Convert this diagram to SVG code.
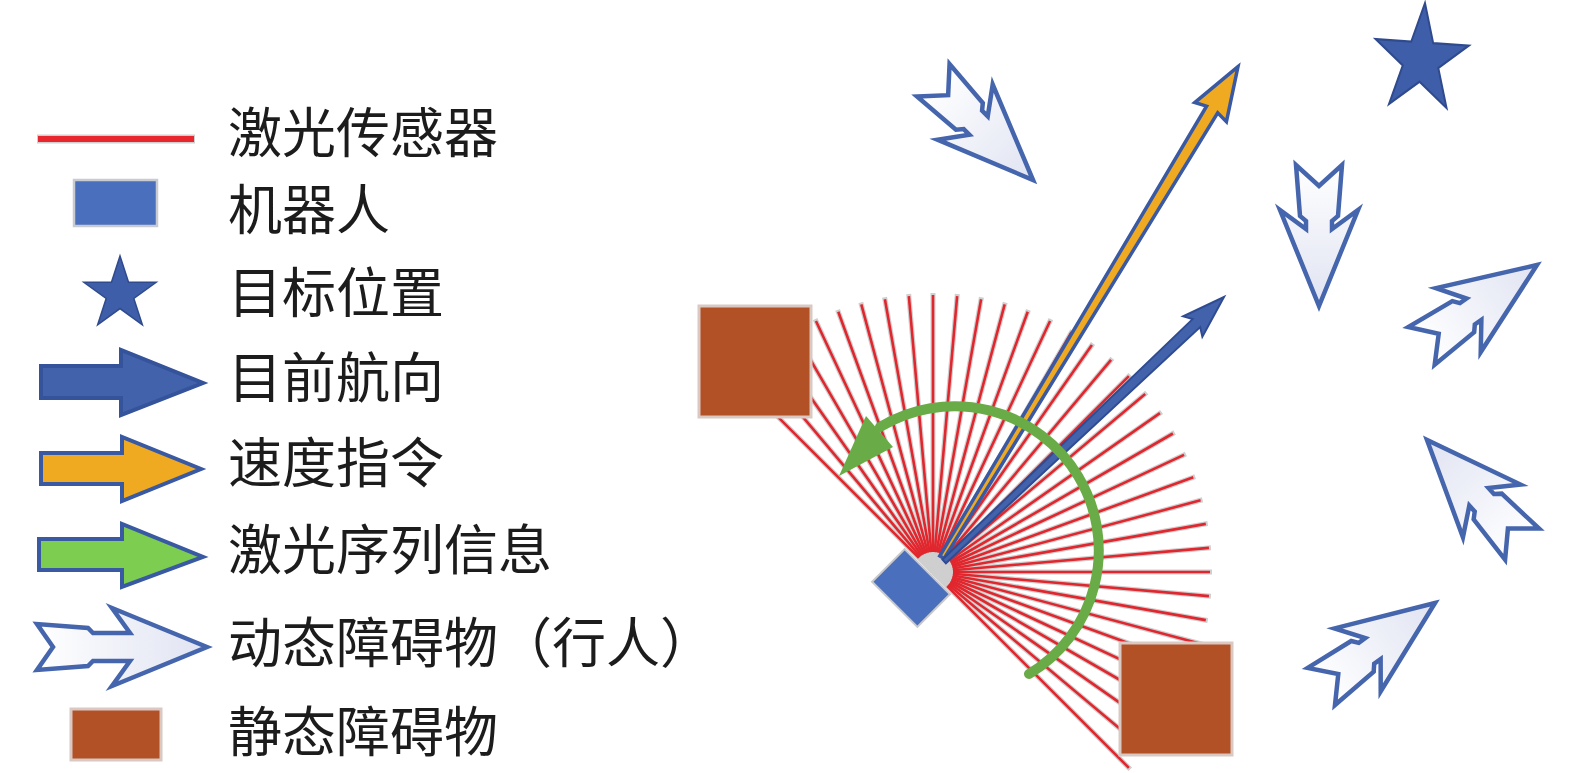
<svg xmlns="http://www.w3.org/2000/svg" xmlns:xlink="http://www.w3.org/1999/xlink" width="1575" height="773" viewBox="0 0 1575 773">
<style>
.lbl{font-family:"Noto Sans CJK SC","Noto Sans",sans-serif;font-size:54px;fill:#1c1c1c}
.rg{stroke:#cfcfcf;stroke-width:5}
.rr{stroke:#e1262d;stroke-width:2.6}
.ped{fill:url(#pedGrad);stroke:#4565ad;stroke-width:4.5;stroke-linejoin:miter}
.brown{fill:#b25126;stroke:#d9c9c2;stroke-width:3}
.star{fill:#3f5ea9;stroke:#2f4b8e;stroke-width:4}
</style>
<defs>
<linearGradient id="pedGrad" x1="0" y1="0" x2="1" y2="0">
<stop offset="0" stop-color="#ffffff"/>
<stop offset="1" stop-color="#e0e3f2"/>
</linearGradient>
<line id="rayG" x1="0" y1="0" x2="279" y2="0" class="rg"/>
<line id="rayR" x1="20" y1="0" x2="277" y2="0" class="rr"/>
<path id="pedShape" d="M0,0 L-96,-39 L-77,-13 L-85,-13 L-90,-19 L-141,-23 L-120,0 L-141,23 L-90,19 L-85,13 L-77,13 L-96,39 Z"/>
<path id="starShape" d="M0,-100 L22.45,-30.9 L95.11,-30.9 L36.33,11.8 L58.78,80.9 L0,38.2 L-58.78,80.9 L-36.33,11.8 L-95.11,-30.9 L-22.45,-30.9 Z"/>
</defs>
<rect width="1575" height="773" fill="#ffffff"/>

<!-- Legend -->
<g id="legend-laser">
<line x1="37" y1="139" x2="195" y2="139" stroke="#cfcfcf" stroke-width="9"/>
<line x1="38" y1="139" x2="194" y2="139" stroke="#e8262e" stroke-width="6"/>
<text class="lbl" x="228" y="153">激光传感器</text>
</g>
<g id="legend-robot">
<rect x="74" y="180" width="83" height="46" fill="#4a6fbd" stroke="#c9cbd3" stroke-width="2.5"/>
<text class="lbl" x="228" y="230">机器人</text>
</g>
<g id="legend-goal">
<use xlink:href="#starShape" class="star" transform="translate(120,294) scale(0.38)"/>
<text class="lbl" x="228" y="313">目标位置</text>
</g>
<g id="legend-heading">
<polygon points="41,366 121,366 121,350 203,383 121,415 121,398 41,398" fill="#4262ab" stroke="#34539a" stroke-width="4"/>
<text class="lbl" x="228" y="398">目前航向</text>
</g>
<g id="legend-velocity">
<polygon points="41,453 122,453 122,437 201,469 122,501 122,484 41,484" fill="#f0aa22" stroke="#3a59a3" stroke-width="4"/>
<text class="lbl" x="228" y="483">速度指令</text>
</g>
<g id="legend-sequence">
<polygon points="39,539 122,539 122,524 203,557 122,587 122,570 39,570" fill="#7ccd50" stroke="#3a59a3" stroke-width="4"/>
<text class="lbl" x="228" y="570">激光序列信息</text>
</g>
<g id="legend-pedestrian">
<polygon class="ped" points="207,647 112,608 130,633 93,633 88,628 37,624 53,647 37,670 88,666 93,661 130,661 112,686"/>
<text class="lbl" x="228" y="663">动态障碍物（行人）</text>
</g>
<g id="legend-static">
<rect x="71" y="709" width="90" height="51" class="brown"/>
<text class="lbl" x="228" y="752">静态障碍物</text>
</g>

<!-- Laser rays -->
<g id="laser-rays">
<g transform="translate(933,572)">
<use xlink:href="#rayG" transform="rotate(-135)"/><use xlink:href="#rayG" transform="rotate(-130)"/><use xlink:href="#rayG" transform="rotate(-125)"/><use xlink:href="#rayG" transform="rotate(-120)"/><use xlink:href="#rayG" transform="rotate(-115)"/><use xlink:href="#rayG" transform="rotate(-110)"/><use xlink:href="#rayG" transform="rotate(-105)"/><use xlink:href="#rayG" transform="rotate(-100)"/><use xlink:href="#rayG" transform="rotate(-95)"/><use xlink:href="#rayG" transform="rotate(-90)"/><use xlink:href="#rayG" transform="rotate(-85)"/><use xlink:href="#rayG" transform="rotate(-80)"/><use xlink:href="#rayG" transform="rotate(-75)"/><use xlink:href="#rayG" transform="rotate(-70)"/><use xlink:href="#rayG" transform="rotate(-65)"/><use xlink:href="#rayG" transform="rotate(-60)"/><use xlink:href="#rayG" transform="rotate(-55)"/><use xlink:href="#rayG" transform="rotate(-50)"/><use xlink:href="#rayG" transform="rotate(-45)"/><use xlink:href="#rayG" transform="rotate(-40)"/><use xlink:href="#rayG" transform="rotate(-35)"/><use xlink:href="#rayG" transform="rotate(-30)"/><use xlink:href="#rayG" transform="rotate(-25)"/><use xlink:href="#rayG" transform="rotate(-20)"/><use xlink:href="#rayG" transform="rotate(-15)"/><use xlink:href="#rayG" transform="rotate(-10)"/><use xlink:href="#rayG" transform="rotate(-5)"/><use xlink:href="#rayG" transform="rotate(0)"/><use xlink:href="#rayG" transform="rotate(5)"/><use xlink:href="#rayG" transform="rotate(10)"/><use xlink:href="#rayG" transform="rotate(15)"/><use xlink:href="#rayG" transform="rotate(20)"/><use xlink:href="#rayG" transform="rotate(25)"/><use xlink:href="#rayG" transform="rotate(30)"/><use xlink:href="#rayG" transform="rotate(35)"/><use xlink:href="#rayG" transform="rotate(40)"/><use xlink:href="#rayG" transform="rotate(45)"/>
<use xlink:href="#rayR" transform="rotate(-135)"/><use xlink:href="#rayR" transform="rotate(-130)"/><use xlink:href="#rayR" transform="rotate(-125)"/><use xlink:href="#rayR" transform="rotate(-120)"/><use xlink:href="#rayR" transform="rotate(-115)"/><use xlink:href="#rayR" transform="rotate(-110)"/><use xlink:href="#rayR" transform="rotate(-105)"/><use xlink:href="#rayR" transform="rotate(-100)"/><use xlink:href="#rayR" transform="rotate(-95)"/><use xlink:href="#rayR" transform="rotate(-90)"/><use xlink:href="#rayR" transform="rotate(-85)"/><use xlink:href="#rayR" transform="rotate(-80)"/><use xlink:href="#rayR" transform="rotate(-75)"/><use xlink:href="#rayR" transform="rotate(-70)"/><use xlink:href="#rayR" transform="rotate(-65)"/><use xlink:href="#rayR" transform="rotate(-60)"/><use xlink:href="#rayR" transform="rotate(-55)"/><use xlink:href="#rayR" transform="rotate(-50)"/><use xlink:href="#rayR" transform="rotate(-45)"/><use xlink:href="#rayR" transform="rotate(-40)"/><use xlink:href="#rayR" transform="rotate(-35)"/><use xlink:href="#rayR" transform="rotate(-30)"/><use xlink:href="#rayR" transform="rotate(-25)"/><use xlink:href="#rayR" transform="rotate(-20)"/><use xlink:href="#rayR" transform="rotate(-15)"/><use xlink:href="#rayR" transform="rotate(-10)"/><use xlink:href="#rayR" transform="rotate(-5)"/><use xlink:href="#rayR" transform="rotate(0)"/><use xlink:href="#rayR" transform="rotate(5)"/><use xlink:href="#rayR" transform="rotate(10)"/><use xlink:href="#rayR" transform="rotate(15)"/><use xlink:href="#rayR" transform="rotate(20)"/><use xlink:href="#rayR" transform="rotate(25)"/><use xlink:href="#rayR" transform="rotate(30)"/><use xlink:href="#rayR" transform="rotate(35)"/><use xlink:href="#rayR" transform="rotate(40)"/><use xlink:href="#rayR" transform="rotate(45)"/>
</g>
</g>

<!-- Velocity command arrow (orange) -->
<g id="velocity-arrow" transform="translate(1239,65) rotate(-58.89)">
<path d="M-2,0 L-55,-18.5 L-52,-6.5 L-575,-2.5 L-575,2.5 L-52,6.5 L-55,18.5 Z" fill="#f0aa22" stroke="#3a59a3" stroke-width="3.5" stroke-linejoin="miter"/>
</g>
<!-- Current heading arrow (blue) -->
<g id="heading-arrow" transform="translate(1224,297) rotate(-43.38)">
<path d="M0,0 L-43,-14 L-38,-5.5 L-385,-2.5 L-385,2.5 L-38,5.5 L-43,14 Z" fill="#4262ab" stroke="#2f4c92" stroke-width="2"/>
</g>

<!-- Static obstacles -->
<g id="obstacle-left"><rect x="699" y="306" width="112" height="111" class="brown"/></g>
<g id="obstacle-right"><rect x="1120" y="643" width="112" height="112" class="brown"/></g>

<!-- Robot -->
<g id="robot"><rect x="-32" y="-23" width="64" height="46" fill="#4a6fbd" stroke="#c9c9c9" stroke-width="2" transform="translate(911,588) rotate(45)"/></g>

<!-- Laser sequence arc (green) -->
<g id="sequence-arc">
<path d="M1029,674 A144,144 0 1 0 880,427" fill="none" stroke="#69ab46" stroke-width="10" stroke-linecap="round"/>
<polygon points="866,416 893,447 839,476" fill="#69ab46"/>
</g>

<!-- Goal -->
<g id="goal-star"><use xlink:href="#starShape" class="star" transform="translate(1421,60) rotate(4) scale(0.49,0.57)"/></g>

<!-- Pedestrians -->
<g id="ped-1"><use xlink:href="#pedShape" class="ped" transform="translate(1033,180) rotate(45)"/></g>
<g id="ped-2"><use xlink:href="#pedShape" class="ped" transform="translate(1319,306) rotate(90)"/></g>
<g id="ped-3"><use xlink:href="#pedShape" class="ped" transform="translate(1537,265) rotate(-35)"/></g>
<g id="ped-4"><use xlink:href="#pedShape" class="ped" transform="translate(1427,440) rotate(-132.4)"/></g>
<g id="ped-5"><use xlink:href="#pedShape" class="ped" transform="translate(1435,603) rotate(-36.3)"/></g>
</svg>
